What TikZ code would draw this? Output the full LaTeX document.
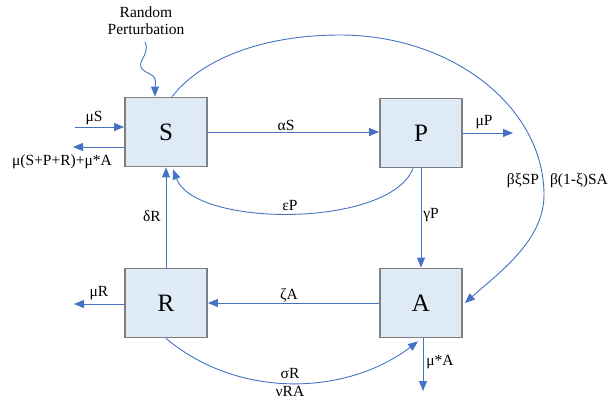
\documentclass[tikz,border=0pt]{standalone}
\usepackage{fontspec}
\setmainfont{Liberation Serif}
\usetikzlibrary{arrows.meta}

\definecolor{flowblue}{HTML}{4472C4}
\definecolor{boxfill}{HTML}{DEEBF7}
\definecolor{boxline}{HTML}{7F7F7F}

\tikzset{
  box/.style={draw=boxline, line width=1.8pt, fill=boxfill, minimum width=82pt,
    minimum height=69pt, inner sep=0pt, font=\fontsize{25}{27}\selectfont},
  flow/.style={draw=flowblue, line width=0.9pt, -{Triangle[length=10pt,width=8pt]}},
  rate/.style={font=\fontsize{15.5}{17}\selectfont, inner sep=1pt},
}

\begin{document}
\begin{tikzpicture}[x=1pt,y=-1pt]
\useasboundingbox (0,0) rectangle (610,405);

\node[box] (S) at (166,132) {S};
\node[box] (P) at (421,133) {P};
\node[box] (R) at (166,303) {R};
\node[box] (A) at (421,303) {A};

\coordinate (muSin) at (75,127);
\coordinate (muSout) at (73,147);
\coordinate (muPout) at (513,133);
\coordinate (muRout) at (74,304);
\coordinate (muAout) at (423,391);
\coordinate (noise) at (145,42);
\coordinate (arcTop) at (340,35);
\coordinate (arcRight) at (544,195);

\draw[flow] (muSin) -- (muSin -| S.west);
\draw[flow] (muSout -| S.west) -- (muSout);
\draw[flow] (noise) .. controls (152,58) and (128,64) .. (150,74) .. controls (158,78) and (155,84) .. ([xshift=-11pt]S.north);
\draw[flow] ([xshift=6pt]S.north) .. controls (205,55) and (270,35) .. (arcTop)
  .. controls (452,35) and (544,107) .. (arcRight)
  .. controls (544,240) and (500,272) .. ([xshift=2pt]A.east);
\draw[flow] (S.east) -- (S.east -| P.west);
\draw[flow] (P.east) -- (muPout);
\draw[flow] ([xshift=-8pt]P.south) .. controls (390,228) and (195,228) .. ([xshift=7pt,yshift=-2pt]S.south);
\draw[flow] (R.north) -- (S.south);
\draw[flow] (P.south) -- (A.north);
\draw[flow] (A.west) -- (R.east);
\draw[flow] (muRout -| R.west) -- (muRout);
\draw[flow] ([xshift=2pt]A.south) -- (muAout);
\draw[flow] (R.south) .. controls (238,399) and (346,396) .. ([xshift=-3pt,yshift=-3pt]A.south);

\node[rate, align=center] (noiseText) at (146,21) {Random\\Perturbation};
\node[rate] (lmuSin) at (94,118) {μS};
\node[rate] (lmuSout) at (62,162) {μ(S+P+R)+μ*A};
\node[rate] (lalpha) at (286,125) {αS};
\node[rate] (lmuP) at (484,122) {μP};
\node[rate] (leps) at (290,205) {εP};
\node[rate] (ldelta) at (152,216) {δR};
\node[rate] (lgamma) at (431,215) {γP};
\node[rate] (lzeta) at (289,295) {ζA};
\node[rate] (lmuR) at (99,293) {μR};
\node[rate] (lmuA) at (440,362) {μ*A};
\node[rate] (lsigma) at (290,373) {σR};
\node[rate] (lnu) at (290,391) {νRA};
\node[rate] (lbetaP) at (523,181) {βξSP};
\node[rate] (lbetaA) at (579,181) {β(1-ξ)SA};

\end{tikzpicture}
\end{document}
